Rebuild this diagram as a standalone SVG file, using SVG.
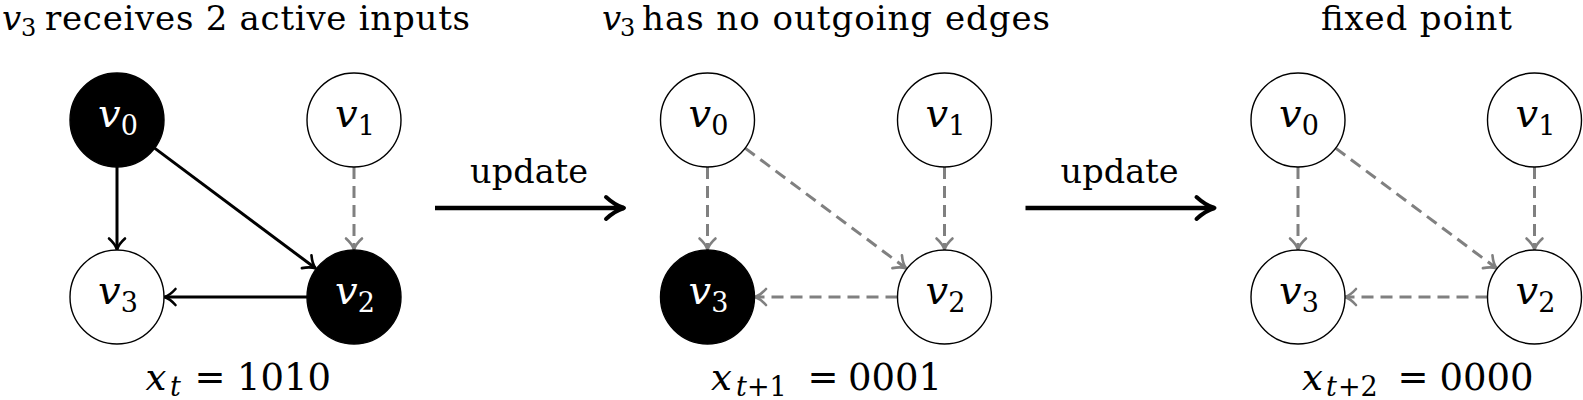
<svg xmlns="http://www.w3.org/2000/svg" width="1583" height="400" viewBox="0 0 1583 400">
<style>
.bg{fill:#fff}
.n{fill:#fff;stroke:#000;stroke-width:1.4}
.nf{fill:#000;stroke:#000;stroke-width:1.4}
.t{font-family:'DejaVu Serif',serif;fill:#000}
.nl{font-family:'DejaVu Serif',serif;font-size:40px;fill:#000}
.w{fill:#fff}
.it{font-style:italic}
.ek{stroke:#000;stroke-width:3;fill:none;marker-end:url(#ak)}
.eg{stroke:#808080;stroke-width:3;stroke-dasharray:12 7;fill:none;marker-end:url(#ag)}
.up{stroke:#000;stroke-width:4.5;fill:none;marker-end:url(#au)}
</style>
<defs>
<marker id="ak" markerUnits="userSpaceOnUse" orient="auto" overflow="visible" refX="0" refY="0" markerWidth="1" markerHeight="1">
<path d="M-11,-8 C-7,-3.5 -3,-1 0,0 C-3,1 -7,3.5 -11,8" fill="none" stroke="#000" stroke-width="2.6" stroke-linecap="round" stroke-linejoin="round"/>
</marker>
<marker id="ag" markerUnits="userSpaceOnUse" orient="auto" overflow="visible" refX="0" refY="0" markerWidth="1" markerHeight="1">
<path d="M-11,-8 C-7,-3.5 -3,-1 0,0 C-3,1 -7,3.5 -11,8" fill="none" stroke="#808080" stroke-width="2.6" stroke-dasharray="none" stroke-linecap="round" stroke-linejoin="round"/>
</marker>
<marker id="au" markerUnits="userSpaceOnUse" orient="auto" overflow="visible" refX="0" refY="0" markerWidth="1" markerHeight="1">
<path d="M-18,-11 C-11,-4.5 -4,-1.2 0,0 C-4,1.2 -11,4.5 -18,11" fill="none" stroke="#000" stroke-width="4" stroke-linecap="round" stroke-linejoin="round"/>
</marker>
</defs>
<rect class="bg" x="0" y="0" width="1583" height="400"/>

<g id="titles">
<text class="t" font-size="34" y="30"><tspan class="it" x="2">v</tspan><tspan font-size="24" x="21" y="36">3</tspan><tspan x="45" y="30" textLength="425" lengthAdjust="spacing">receives 2 active inputs</tspan></text>
<text class="t" font-size="34" y="30"><tspan class="it" x="602">v</tspan><tspan font-size="24" x="620" y="36">3</tspan><tspan x="642" y="30" textLength="408" lengthAdjust="spacing">has no outgoing edges</tspan></text>
<text class="t" font-size="34" x="1321" y="30" textLength="191" lengthAdjust="spacing">fixed point</text>
</g>

<g id="connectors">
<line class="ek" x1="117" y1="167" x2="117" y2="249.5"/>
<line class="eg" x1="354" y1="167" x2="354" y2="249.5"/>
<line class="ek" x1="154.6" y1="148.1" x2="315.5" y2="268.3"/>
<line class="ek" x1="307" y1="297" x2="164.5" y2="297"/>

<line class="up" x1="435" y1="208" x2="624" y2="208"/>

<line class="eg" x1="707.5" y1="167" x2="707.5" y2="249.5"/>
<line class="eg" x1="944.5" y1="167" x2="944.5" y2="249.5"/>
<line class="eg" x1="745.1" y1="148.1" x2="906" y2="268.3"/>
<line class="eg" x1="897.5" y1="297" x2="755" y2="297"/>

<line class="up" x1="1025.5" y1="208" x2="1214.5" y2="208"/>

<line class="eg" x1="1298" y1="167" x2="1298" y2="249.5"/>
<line class="eg" x1="1534.5" y1="167" x2="1534.5" y2="249.5"/>
<line class="eg" x1="1335.6" y1="148.1" x2="1496.5" y2="268.3"/>
<line class="eg" x1="1487.5" y1="297" x2="1345" y2="297"/>
</g>

<g id="update-labels">
<text class="t" font-size="33.5" x="470" y="183" textLength="118" lengthAdjust="spacing">update</text>
<text class="t" font-size="33.5" x="1060.5" y="183" textLength="118" lengthAdjust="spacing">update</text>
</g>

<g id="p1-v0"><circle class="nf" cx="117" cy="120" r="47"/><text class="nl w" x="118" y="127" text-anchor="middle"><tspan class="it">v</tspan><tspan font-size="27" dy="8">0</tspan></text></g>
<g id="p1-v1"><circle class="n" cx="354" cy="120" r="47"/><text class="nl" x="355" y="127" text-anchor="middle"><tspan class="it">v</tspan><tspan font-size="27" dy="8">1</tspan></text></g>
<g id="p1-v3"><circle class="n" cx="117" cy="297" r="47"/><text class="nl" x="118" y="304" text-anchor="middle"><tspan class="it">v</tspan><tspan font-size="27" dy="8">3</tspan></text></g>
<g id="p1-v2"><circle class="nf" cx="354" cy="297" r="47"/><text class="nl w" x="355" y="304" text-anchor="middle"><tspan class="it">v</tspan><tspan font-size="27" dy="8">2</tspan></text></g>

<g id="p2-v0"><circle class="n" cx="707.5" cy="120" r="47"/><text class="nl" x="708.5" y="127" text-anchor="middle"><tspan class="it">v</tspan><tspan font-size="27" dy="8">0</tspan></text></g>
<g id="p2-v1"><circle class="n" cx="944.5" cy="120" r="47"/><text class="nl" x="945.5" y="127" text-anchor="middle"><tspan class="it">v</tspan><tspan font-size="27" dy="8">1</tspan></text></g>
<g id="p2-v3"><circle class="nf" cx="707.5" cy="297" r="47"/><text class="nl w" x="708.5" y="304" text-anchor="middle"><tspan class="it">v</tspan><tspan font-size="27" dy="8">3</tspan></text></g>
<g id="p2-v2"><circle class="n" cx="944.5" cy="297" r="47"/><text class="nl" x="945.5" y="304" text-anchor="middle"><tspan class="it">v</tspan><tspan font-size="27" dy="8">2</tspan></text></g>

<g id="p3-v0"><circle class="n" cx="1298" cy="120" r="47"/><text class="nl" x="1299" y="127" text-anchor="middle"><tspan class="it">v</tspan><tspan font-size="27" dy="8">0</tspan></text></g>
<g id="p3-v1"><circle class="n" cx="1534.5" cy="120" r="47"/><text class="nl" x="1535.5" y="127" text-anchor="middle"><tspan class="it">v</tspan><tspan font-size="27" dy="8">1</tspan></text></g>
<g id="p3-v3"><circle class="n" cx="1298" cy="297" r="47"/><text class="nl" x="1299" y="304" text-anchor="middle"><tspan class="it">v</tspan><tspan font-size="27" dy="8">3</tspan></text></g>
<g id="p3-v2"><circle class="n" cx="1534.5" cy="297" r="47"/><text class="nl" x="1535.5" y="304" text-anchor="middle"><tspan class="it">v</tspan><tspan font-size="27" dy="8">2</tspan></text></g>

<g id="state-labels">
<text class="t" font-size="37" y="390"><tspan class="it" x="145.5">x</tspan><tspan class="it" font-size="27" x="170" y="396">t</tspan><tspan x="194.5" y="390">=</tspan><tspan x="237" y="390">1010</tspan></text>
<text class="t" font-size="37" y="390"><tspan class="it" x="711">x</tspan><tspan class="it" font-size="27" x="736" y="396">t</tspan><tspan font-size="27" x="747" y="396">+1</tspan><tspan x="807.5" y="390">=</tspan><tspan x="848" y="390">0001</tspan></text>
<text class="t" font-size="37" y="390"><tspan class="it" x="1302">x</tspan><tspan class="it" font-size="27" x="1326" y="396">t</tspan><tspan font-size="27" x="1338" y="396">+2</tspan><tspan x="1397.5" y="390">=</tspan><tspan x="1439.5" y="390">0000</tspan></text>
</g>
</svg>
